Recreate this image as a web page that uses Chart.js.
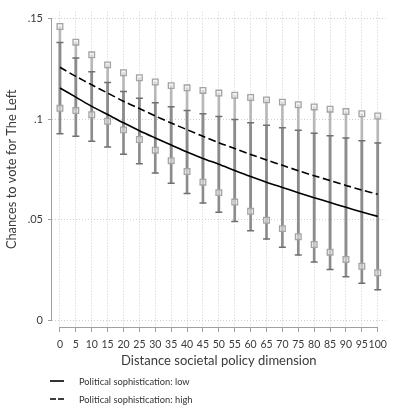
<!DOCTYPE html>
<html>
<head>
<meta charset="utf-8">
<script src="https://cdn.jsdelivr.net/npm/chart.js@4.4.1/dist/chart.umd.min.js"></script>
<style>
  html, body { margin: 0; padding: 0; background: #fff; }
  #wrap { position: relative; width: 393px; height: 409px; }
  canvas { display: block; }
  #legend { position: absolute; left: 50px; top: 372px; font-family: Lato, "Liberation Sans", sans-serif; font-size: 9.3px; color: #333; }
  .item { display: flex; align-items: center; height: 18px; }
  .item svg { width: 14px; height: 4px; margin-right: 15px; }
</style>
</head>
<body>
<div id="wrap">
  <canvas id="c" width="393" height="409"></canvas>
  <div id="legend">
    <div class="item"><svg viewBox="0 0 14 4"><line x1="0" y1="2" x2="14" y2="2" stroke="#000" stroke-width="1.6"/></svg><span>Political sophistication: low</span></div>
    <div class="item"><svg viewBox="0 0 14 4"><line x1="0" y1="2" x2="14" y2="2" stroke="#000" stroke-width="1.6" stroke-dasharray="6,2"/></svg><span>Political sophistication: high</span></div>
  </div>
</div>
<script>
// Distance on the societal policy dimension
const distances = [0, 5, 10, 15, 20, 25, 30, 35, 40, 45, 50, 55, 60, 65, 70, 75, 80, 85, 90, 95, 100];

// Predicted chances, low political sophistication
const lowMean  = [.1154, .1109, .1063, .1022, .0981, .0942, .0906, .0871, .0836, .0804, .0775, .0744, .0714, .0686, .0660, .0634, .0609, .0585, .0561, .0538, .0516];
const lowUpper = [.1380, .1303, .1235, .1182, .1137, .1103, .1081, .1061, .1042, .1026, .1013, .0998, .0982, .0969, .0957, .0944, .0929, .0917, .0905, .0892, .0881];
const lowLower = [.0927, .0914, .0890, .0861, .0825, .0778, .0732, .0681, .0630, .0582, .0536, .0490, .0445, .0403, .0362, .0324, .0289, .0252, .0216, .0184, .0151];

// Predicted chances, high political sophistication
const highMean  = [.1257, .1212, .1170, .1129, .1088, .1052, .1015, .0980, .0947, .0914, .0882, .0853, .0824, .0796, .0770, .0743, .0718, .0694, .0670, .0647, .0626];
const highUpper = [.1460, .1382, .1319, .1269, .1230, .1205, .1184, .1166, .1155, .1142, .1129, .1118, .1107, .1095, .1084, .1071, .1060, .1049, .1037, .1026, .1015];
const highLower = [.1053, .1042, .1021, .0989, .0946, .0898, .0845, .0793, .0739, .0686, .0634, .0587, .0541, .0497, .0455, .0415, .0376, .0338, .0302, .0268, .0236];

// Axis ticks
const yTicks = [0, .05, .1, .15];
const yTickLabels = ['0', '.05', '.1', '.15'];
const xTicks = distances;

const FONT = 'Lato, "Liberation Sans", sans-serif';
const TEXT = '#3a3a3a';
const AXIS = '#a0a0a0';
const GRID = '#cfcfcf';

const pts = (ys) => distances.map((x, i) => ({ x: x, y: ys[i] }));
const ranges = (lo, hi) => distances.map((x, i) => ({ x: x, y: [lo[i], hi[i]] }));

// Axis lines spanning only the tick range, offset from the plot region
const axisLines = {
  id: 'axisLines',
  afterDraw(chart) {
    const { ctx, chartArea, scales: { x, y } } = chart;
    ctx.save();
    ctx.strokeStyle = AXIS;
    ctx.lineWidth = 1;
    const lx = Math.round(chartArea.left) - 0.5;
    ctx.beginPath();
    ctx.moveTo(lx, y.getPixelForValue(yTicks[yTicks.length - 1]));
    ctx.lineTo(lx, y.getPixelForValue(yTicks[0]));
    ctx.stroke();
    const by = Math.round(chartArea.bottom) + 0.5;
    ctx.beginPath();
    ctx.moveTo(x.getPixelForValue(xTicks[0]), by);
    ctx.lineTo(x.getPixelForValue(xTicks[xTicks.length - 1]), by);
    ctx.stroke();
    ctx.restore();
  }
};

new Chart(document.getElementById('c'), {
  data: {
    datasets: [
      { type: 'line', label: 'Political sophistication: low', data: pts(lowMean),
        borderColor: '#000', borderWidth: 1.6, pointRadius: 0, tension: 0.3, order: 0 },
      { type: 'line', label: 'Political sophistication: high', data: pts(highMean),
        borderColor: '#000', borderWidth: 1.6, borderDash: [7.5, 3.5], pointRadius: 0, tension: 0.3, order: 0 },
      { type: 'scatter', label: 'high CI ends', data: pts(highUpper).concat(pts(highLower)),
        pointStyle: 'rect', pointRadius: 4, borderWidth: 1.3, borderColor: '#a4a4a4',
        backgroundColor: 'rgba(238,238,238,0.55)', order: 1 },
      { type: 'scatter', label: 'low CI caps', data: pts(lowUpper).concat(pts(lowLower)),
        pointStyle: 'line', pointRadius: 3.5, borderWidth: 1.5, borderColor: '#707070', order: 1 },
      { type: 'bar', label: 'low CI', data: ranges(lowLower, lowUpper),
        backgroundColor: '#8c8c8c', barThickness: 2, grouped: false, order: 2 },
      { type: 'bar', label: 'high CI', data: ranges(highLower, highUpper),
        backgroundColor: '#b8b8b8', barThickness: 2, grouped: false, order: 3 }
    ]
  },
  options: {
    responsive: false,
    animation: false,
    events: [],
    layout: { padding: { top: 3, right: 2, bottom: 38, left: 0 } },
    plugins: { legend: { display: false }, tooltip: { enabled: false } },
    scales: {
      x: {
        type: 'linear',
        min: -2.5, max: 102.5,
        offset: false,
        afterBuildTicks: (s) => { s.ticks = xTicks.map(v => ({ value: v })); },
        afterFit: (s) => { s.height = 44; },
        grid: { offset: false, color: GRID, lineWidth: 1, drawTicks: true,
                tickLength: 5, tickColor: AXIS, tickBorderDash: [], tickWidth: 1 },
        border: { display: false, dash: [1, 2] },
        ticks: { autoSkip: false, maxRotation: 0, padding: 6, color: TEXT,
                 font: { family: FONT, size: 10.5 }, callback: (v) => String(v) },
        title: { display: true, text: 'Distance societal policy dimension', color: TEXT,
                 font: { family: FONT, size: 13 }, padding: { top: 0, bottom: 2 } }
      },
      y: {
        type: 'linear',
        min: -0.00339, max: 0.15339,
        offset: false,
        afterBuildTicks: (s) => { s.ticks = yTicks.map(v => ({ value: v })); },
        afterFit: (s) => { s.width = 52; },
        grid: { offset: false, color: GRID, lineWidth: 1, drawTicks: true,
                tickLength: 4, tickColor: AXIS, tickBorderDash: [], tickWidth: 1 },
        border: { display: false, dash: [1, 2] },
        ticks: { padding: 5, color: TEXT, font: { family: FONT, size: 11 },
                 callback: (v) => yTickLabels[yTicks.indexOf(v)] },
        title: { display: true, text: 'Chances to vote for The Left', color: TEXT,
                 font: { family: FONT, size: 12.8 }, padding: { top: 4, bottom: 0 } }
      }
    }
  },
  plugins: [axisLines]
});
</script>
</body>
</html>
